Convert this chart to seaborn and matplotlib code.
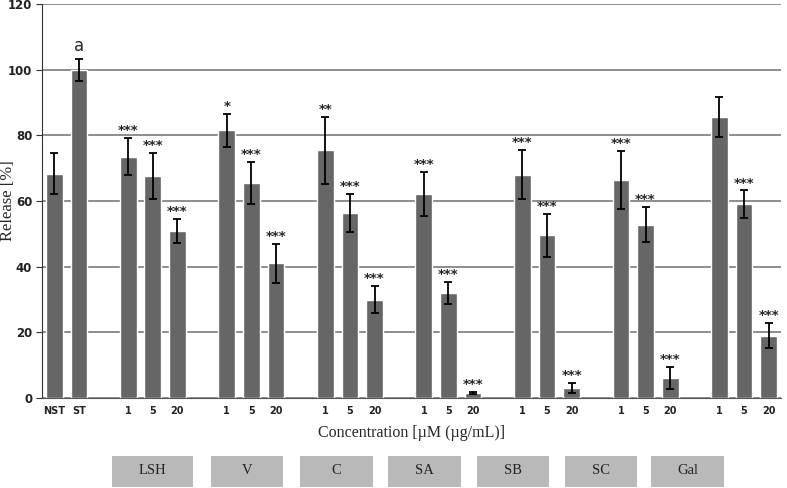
import pandas as pd
import seaborn as sns
import matplotlib.pyplot as plt
from matplotlib.patches import Rectangle

# Data
groups = ['LSH', 'V', 'C', 'SA', 'SB', 'SC', 'Gal']
doses = ['1', '5', '20']
control_labels = ['NST', 'ST']
control_values = [68.3, 100.0]
control_errors = [6.2, 3.3]
control_marks = ['', 'a']

release = {
    'LSH': [73.5, 67.5, 50.8],
    'V':   [81.5, 65.5, 41.0],
    'C':   [75.5, 56.3, 30.0],
    'SA':  [62.0, 32.0, 1.5],
    'SB':  [68.0, 49.5, 3.0],
    'SC':  [66.5, 52.8, 6.0],
    'Gal': [85.5, 59.0, 19.0],
}
errors = {
    'LSH': [5.6, 7.0, 3.7],
    'V':   [5.0, 6.5, 5.9],
    'C':   [10.2, 5.7, 4.1],
    'SA':  [6.7, 3.4, 0.3],
    'SB':  [7.4, 6.6, 1.5],
    'SC':  [8.8, 5.4, 3.4],
    'Gal': [6.1, 4.2, 3.7],
}
marks = {
    'LSH': ['***', '***', '***'],
    'V':   ['*', '***', '***'],
    'C':   ['**', '***', '***'],
    'SA':  ['***', '***', '***'],
    'SB':  ['***', '***', '***'],
    'SC':  ['***', '***', '***'],
    'Gal': ['', '***', '***'],
}

# Build long table with slot positions (one empty slot between groups)
rows = []
for i, lab in enumerate(control_labels):
    rows.append(dict(slot=i, label=lab, value=control_values[i],
                     err=control_errors[i], mark=control_marks[i]))
for g_i, g in enumerate(groups):
    start = 3 + 4 * g_i
    for d_i, d in enumerate(doses):
        rows.append(dict(slot=start + d_i, label=d, value=release[g][d_i],
                         err=errors[g][d_i], mark=marks[g][d_i]))
df = pd.DataFrame(rows)
n_slots = 30

sns.set_style('white')
plt.rcParams['font.family'] = ['DejaVu Sans']

fig = plt.figure(figsize=(7.87, 4.88), dpi=100)
ax = fig.add_axes([42 / 787, 1 - 398 / 488, (781 - 42) / 787, (398 - 4) / 488])

sns.barplot(data=df, x='slot', y='value', order=list(range(n_slots)),
            color='#666666', saturation=1, width=0.68, errorbar=None, ax=ax)
ax.errorbar(df['slot'], df['value'], yerr=df['err'], fmt='none',
            ecolor='black', elinewidth=1.3, capsize=3, capthick=1.3, zorder=4)

for _, r in df.iterrows():
    if r['mark']:
        if r['mark'] == 'a':
            ax.text(r['slot'], r['value'] + r['err'] + 1.2, 'a', ha='center',
                    va='bottom', fontsize=12)
        else:
            ax.text(r['slot'], r['value'] + r['err'] + 0.3, r['mark'],
                    ha='center', va='bottom', fontsize=9.5, fontweight='bold')

ax.set_xlim(-0.5, n_slots - 0.5)
ax.set_ylim(0, 120)
ax.set_yticks(range(0, 121, 20))
ax.yaxis.grid(True, color='#7a7a7a', linewidth=1.2)
ax.set_axisbelow(True)

tick_labels = [''] * n_slots
for _, r in df.iterrows():
    tick_labels[r['slot']] = r['label']
ax.set_xticks(range(n_slots))
ax.set_xticklabels(tick_labels, fontsize=7, fontweight='bold', color='#222222')
ax.set_xticks([s - 0.5 for s in range(n_slots + 1)], minor=True)
ax.tick_params(axis='x', which='major', length=0, pad=6)
ax.tick_params(axis='x', which='minor', length=4, color='#555555', direction='out')
ax.tick_params(axis='y', length=4, color='#333333', direction='out', left=True,
               labelsize=8.5, labelcolor='#222222', pad=3)
for t in ax.get_yticklabels():
    t.set_fontweight('bold')

for side in ['top', 'right']:
    ax.spines[side].set_visible(False)
ax.spines['left'].set_color('#333333')
ax.spines['bottom'].set_color('#555555')

ax.set_xlabel('Concentration [µM (µg/mL)]', family='Liberation Serif',
              fontsize=11.5, labelpad=6)
ax.set_ylabel('Release [%]', family='Liberation Serif', fontsize=12)
ax.yaxis.label.set_va('center')
ax.yaxis.set_label_coords(-0.046, 0.5)

# group boxes below the axis
box_x = [112, 211, 300, 388, 477, 565, 651]
box_w = [81, 72, 73, 73, 72, 72, 73]
for lab, x0, w in zip(groups, box_x, box_w):
    fig.add_artist(Rectangle((x0 / 787, 1 - 487 / 488), w / 787, 31 / 488,
                             transform=fig.transFigure, facecolor='#b9b9b9',
                             edgecolor='none'))
    fig.text((x0 + w / 2) / 787, 1 - 471 / 488, lab, ha='center', va='center',
             family='Liberation Serif', fontsize=10.5, color='#222222')

fig.savefig('out.png')
